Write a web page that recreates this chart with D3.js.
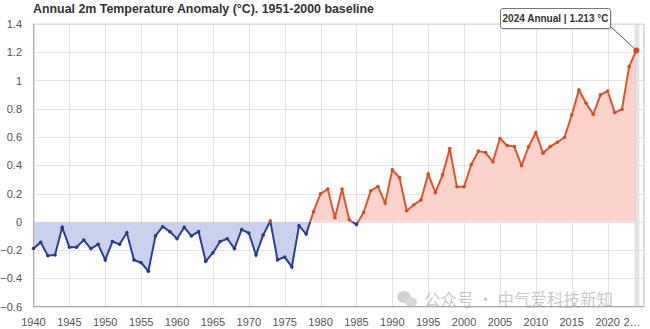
<!DOCTYPE html>
<html><head><meta charset="utf-8">
<script src="https://cdn.jsdelivr.net/npm/d3@7/dist/d3.min.js"></script>
<style>
body{margin:0;background:#fff;}
svg{display:block;font-family:"Liberation Sans",Arial,Helvetica,sans-serif;}
</style></head>
<body><svg id="c" width="650" height="329"></svg>
<script>
const years = [1940,1941,1942,1943,1944,1945,1946,1947,1948,1949,1950,1951,1952,1953,1954,1955,1956,1957,1958,1959,
1960,1961,1962,1963,1964,1965,1966,1967,1968,1969,1970,1971,1972,1973,1974,1975,1976,1977,1978,1979,
1980,1981,1982,1983,1984,1985,1986,1987,1988,1989,1990,1991,1992,1993,1994,1995,1996,1997,1998,1999,
2000,2001,2002,2003,2004,2005,2006,2007,2008,2009,2010,2011,2012,2013,2014,2015,2016,2017,2018,2019,
2020,2021,2022,2023,2024];
const anomalies = [-0.19,-0.146,-0.24,-0.235,-0.04,-0.18,-0.18,-0.13,-0.19,-0.16,
-0.27,-0.14,-0.16,-0.078,-0.27,-0.29,-0.35,-0.10,-0.035,-0.07,
-0.12,-0.04,-0.10,-0.07,-0.28,-0.22,-0.14,-0.12,-0.19,-0.056,
-0.08,-0.235,-0.095,0.005,-0.27,-0.25,-0.32,-0.028,-0.087,0.07,
0.198,0.231,0.028,0.231,0.014,-0.02,0.066,0.219,0.25,0.132,
0.367,0.313,0.078,0.12,0.155,0.337,0.207,0.332,0.518,0.247,
0.247,0.405,0.50,0.49,0.424,0.589,0.54,0.532,0.398,0.532,
0.631,0.485,0.532,0.563,0.598,0.756,0.933,0.839,0.761,0.898,
0.926,0.773,0.796,1.098,1.213];
const xTicks = [1940,1945,1950,1955,1960,1965,1970,1975,1980,1985,1990,1995,2000,2005,2010,2015,2020,2025];
const xTickLabels = ["1940","1945","1950","1955","1960","1965","1970","1975","1980","1985","1990","1995","2000","2005","2010","2015","2020","2…"];
const yTicks = [-0.6,-0.4,-0.2,0,0.2,0.4,0.6,0.8,1,1.2,1.4];
const titleText = "Annual 2m Temperature Anomaly (°C). 1951-2000 baseline";
const tooltipText = "2024 Annual | 1.213 °C";
const watermarkText = "公众号 · 中气爱科技新知";

const data = years.map((y,i)=>({year:y, v:anomalies[i]}));
const svg = d3.select("#c");
const L=33.5, R=643.5, T=24, B=306.5;
const x = d3.scaleLinear().domain([1940,2025]).range([L,R]);
const y = d3.scaleLinear().domain([-0.6,1.4]).range([B,T]);

const defs = svg.append("defs");
defs.append("clipPath").attr("id","pos").append("rect").attr("x",0).attr("y",0).attr("width",650).attr("height",y(0));
defs.append("clipPath").attr("id","neg").append("rect").attr("x",0).attr("y",y(0)).attr("width",650).attr("height",329-y(0));

// title
svg.append("text").attr("x",33).attr("y",13).attr("font-size",12.4).attr("font-weight","bold").attr("fill","#333").text(titleText);

// grid
const g = svg.append("g");
g.selectAll(".hg").data(yTicks).join("line").attr("x1",L).attr("x2",R).attr("y1",d=>Math.round(y(d))+0.5).attr("y2",d=>Math.round(y(d))+0.5).attr("stroke","#e3e3e3");
g.selectAll(".vg").data(xTicks).join("line").attr("y1",T).attr("y2",B).attr("x1",d=>Math.round(x(d))+0.5).attr("x2",d=>Math.round(x(d))+0.5).attr("stroke","#e3e3e3");
g.append("rect").attr("x",L).attr("y",T).attr("width",R-L).attr("height",B-T).attr("fill","none").attr("stroke","#d8d8d8");

// areas
const area = d3.area().x(d=>x(d.year)).y0(y(0)).y1(d=>y(d.v));
svg.append("path").datum(data).attr("d",area).attr("fill","#c9d1ef").attr("clip-path","url(#neg)");
svg.append("path").datum(data).attr("d",area).attr("fill","#fcd3ca").attr("clip-path","url(#pos)");

// hover band
svg.append("rect").attr("x",x(2024)-2).attr("y",T).attr("width",5).attr("height",B-T).attr("fill","#d9d9d9").attr("opacity",0.7);

// axes lines
svg.append("line").attr("x1",L).attr("x2",L).attr("y1",T).attr("y2",B).attr("stroke","#aaa");
svg.append("line").attr("x1",L).attr("x2",R).attr("y1",B).attr("y2",B).attr("stroke","#aaa");

// lines
const line = d3.line().x(d=>x(d.year)).y(d=>y(d.v));
svg.append("path").datum(data).attr("d",line).attr("fill","none").attr("stroke","#2c3f91").attr("stroke-width",2).attr("clip-path","url(#neg)");
svg.append("path").datum(data).attr("d",line).attr("fill","none").attr("stroke","#de5432").attr("stroke-width",2).attr("clip-path","url(#pos)");

// points
svg.selectAll(".pt").data(data).join("circle").attr("cx",d=>x(d.year)).attr("cy",d=>y(d.v)).attr("r",1.8)
  .attr("fill",d=>d.v>=0?"#d9482a":"#253a8c");

// y labels
svg.selectAll(".yl").data(yTicks).join("text").attr("x",22).attr("y",d=>y(d)+4).attr("text-anchor","end")
  .attr("font-size",11).attr("fill","#555").text(d=>d3.format("")(+d.toFixed(1)));
// x labels
svg.selectAll(".xl").data(xTicks).join("text").attr("x",(d,i)=>i===xTicks.length-1?x(d)-3:x(d)).attr("y",326)
  .attr("text-anchor",(d,i)=>i===xTicks.length-1?"end":"middle").attr("font-size",11).attr("fill","#555").text((d,i)=>xTickLabels[i]);

// watermark
const wm = svg.append("g").attr("opacity",0.45);
wm.append("ellipse").attr("cx",404).attr("cy",297).attr("rx",7).attr("ry",6).attr("fill","#999");
wm.append("ellipse").attr("cx",411).attr("cy",302).attr("rx",6).attr("ry",5).attr("fill","#aaa");
wm.append("text").attr("x",424).attr("y",306).attr("font-size",16.5).attr("fill","#888")
  .attr("font-family","'Noto Sans CJK SC',sans-serif").text(watermarkText);

// tooltip
const d24 = data[data.length-1];
svg.append("line").attr("x1",610).attr("y1",26).attr("x2",x(d24.year)).attr("y2",y(d24.v)).attr("stroke","#555").attr("stroke-width",1);
svg.append("rect").attr("x",502).attr("y",10).attr("width",110).attr("height",20).attr("rx",2).attr("fill","#888").attr("opacity",0.25);
svg.append("rect").attr("x",500.5).attr("y",8.5).attr("width",110).attr("height",20).attr("rx",2).attr("fill","#fff").attr("stroke","#777");
svg.append("text").attr("x",555.5).attr("y",22).attr("text-anchor","middle").attr("font-size",10).attr("font-weight","bold").attr("fill","#333").text(tooltipText);
svg.append("circle").attr("cx",x(d24.year)).attr("cy",y(d24.v)).attr("r",3).attr("fill","#d9482a");
</script></body></html>
